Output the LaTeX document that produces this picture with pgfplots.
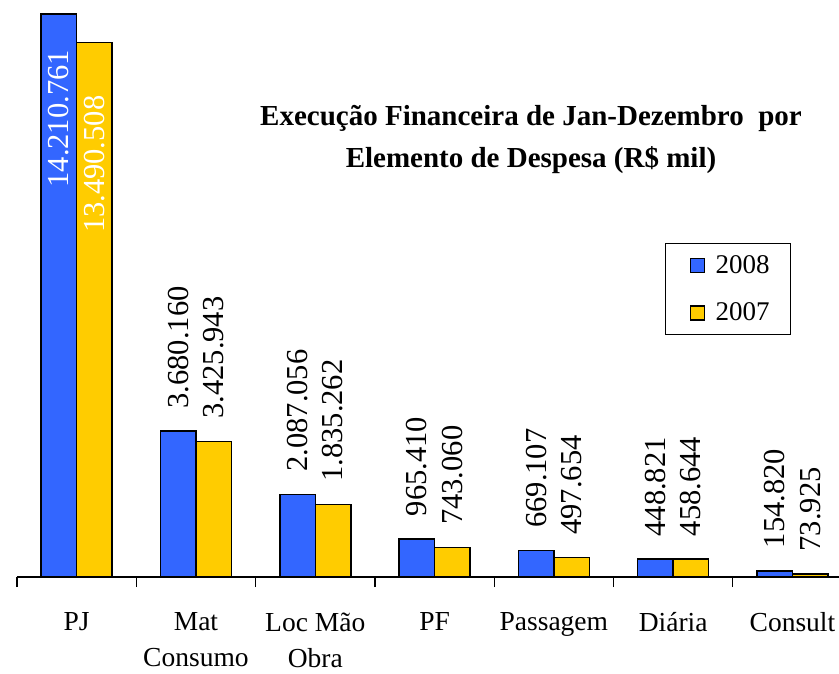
\documentclass[border=0pt]{standalone}
\usepackage{pgfplots}
\pgfplotsset{compat=1.18}
\usepackage{fontspec}
\setmainfont{Liberation Serif}
\definecolor{b08}{HTML}{3366FF}
\definecolor{y07}{HTML}{FFCC00}
\begin{document}
\begin{tikzpicture}
\useasboundingbox (-17pt,-96pt) rectangle (822pt,577pt);
\begin{axis}[
  at={(0pt,0pt)}, anchor=south west,
  scale only axis, width=822pt, height=577pt,
  xmin=-0.5, xmax=6.39, ymin=0, ymax=14.563,
  ybar, bar width=35.5pt,
  axis y line=none, axis x line=bottom,
  x axis line style={-, black, line width=1.2pt},
  xtick={0,1,2,3,4,5,6},
  xticklabels={PJ, Mat\\Consumo, Loc Mão\\Obra, PF, Passagem, Diária, Consult},
  major x tick style={draw=none},
  minor xtick={-0.5,0.5,1.5,2.5,3.5,4.5,5.5},
  minor x tick style={black, line width=1.2pt},
  minor tick length=10pt, tick align=outside,
  xticklabel style={anchor=north, align=center, inner sep=0pt, yshift=-31pt,
    font=\fontsize{27.5}{36}\selectfont},
  legend style={at={(0.7883,0.5789)}, anchor=north west, draw=black, line width=1.2pt,
    inner xsep=18pt, inner ysep=10pt, row sep=24pt,
    font=\fontsize{27}{30}\selectfont,
    nodes={inner ysep=2pt, inner xsep=3pt, anchor=west}},
  legend image code/.code={\path[draw=none, fill=none] (0pt,-7pt) rectangle (29pt,7pt);
    \draw[#1, line width=1.5pt] (7pt,-7pt) rectangle (21pt,7pt);},
  every node near coord/.append style={rotate=90, anchor=west, inner xsep=22pt, inner ysep=0pt,
    font=\fontsize{30.5}{32}\selectfont, text=black},
  point meta=explicit symbolic,
]
\addplot[fill=b08, draw=black, line width=1.5pt, bar shift=-17.75pt, nodes near coords]
 coordinates {(0,14.210761)[] (1,3.680160)[3.680.160] (2,2.087056)[2.087.056]
  (3,0.965410)[965.410] (4,0.669107)[669.107] (5,0.448821)[448.821] (6,0.154820)[154.820]};
\addlegendentry{2008}
\addplot[fill=y07, draw=black, line width=1.5pt, bar shift=17.75pt, nodes near coords]
 coordinates {(0,13.490508)[] (1,3.425943)[3.425.943] (2,1.835262)[1.835.262]
  (3,0.743060)[743.060] (4,0.497654)[497.654] (5,0.458644)[458.644] (6,0.073925)[73.925]};
\addlegendentry{2007}
\addplot[forget plot, draw=none, fill=none, bar shift=-17.75pt, nodes near coords,
  every node near coord/.append style={anchor=east, inner xsep=36pt, text=white}]
 coordinates {(0,14.210761)[14.210.761]};
\addplot[forget plot, draw=none, fill=none, bar shift=17.75pt, nodes near coords,
  every node near coord/.append style={anchor=east, inner xsep=53pt, text=white}]
 coordinates {(0,13.490508)[13.490.508]};
\end{axis}
\node[anchor=base, font=\bfseries\fontsize{29}{30}\selectfont, inner sep=0pt] at (514pt,451pt) {Execução Financeira de Jan-Dezembro\ \ por};
\node[anchor=base, font=\bfseries\fontsize{29}{30}\selectfont, inner sep=0pt] at (514pt,409pt) {Elemento de Despesa (R\$ mil)};
\end{tikzpicture}
\end{document}
